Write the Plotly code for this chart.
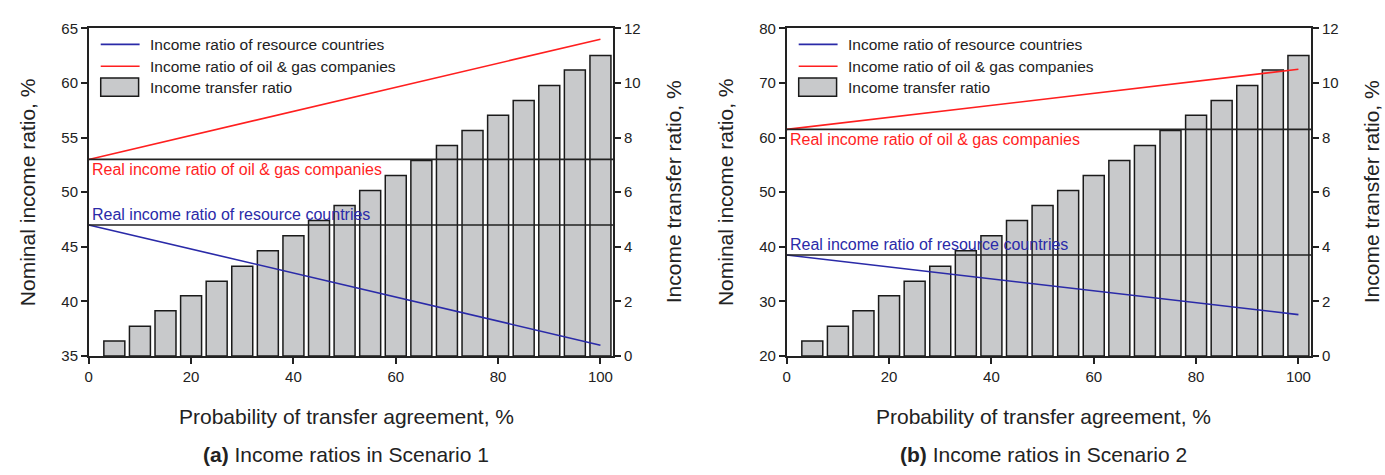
import plotly.graph_objects as go

# ---------------- data ----------------
prob = [5, 10, 15, 20, 25, 30, 35, 40, 45, 50, 55, 60, 65, 70, 75, 80, 85, 90, 95, 100]
transfer_a = [0.55, 1.09, 1.66, 2.21, 2.74, 3.29, 3.86, 4.41, 4.96, 5.51,
              6.06, 6.61, 7.16, 7.71, 8.26, 8.82, 9.36, 9.91, 10.47, 11.0]
transfer_b = [0.55, 1.09, 1.66, 2.21, 2.74, 3.29, 3.86, 4.41, 4.96, 5.51,
              6.06, 6.61, 7.16, 7.71, 8.26, 8.82, 9.36, 9.91, 10.47, 11.0]
line_x = [0, 100]
resource_a = [47.0, 36.0]
oilgas_a = [53.0, 64.0]
resource_b = [38.5, 27.6]
oilgas_b = [61.5, 72.5]
real_oilgas_a, real_resource_a = 53.0, 47.0
real_oilgas_b, real_resource_b = 61.5, 38.5

legend_names = ["Income ratio of resource countries",
                "Income ratio of oil & gas companies",
                "Income transfer ratio"]
x_title = "Probability of transfer agreement, %"
left_title = "Nominal income ratio, %"
right_title = "Income transfer ratio, %"
subtitles = ["<b>(a)</b> Income ratios in Scenario 1", "<b>(b)</b> Income ratios in Scenario 2"]

# ---------------- style ----------------
W, H = 1385, 475
FONT = "Liberation Sans, Arial, Helvetica, sans-serif"
AX = "#222222"
RED = "#ff1f1f"
BLUE = "#2a2aa8"
BAR_FILL = "#c8c9cb"

panels = [
    dict(left=85, right=611, xa="x", ya_bar="y", ya_line="y2",
         xkey="xaxis", ybkey="yaxis", ylkey="yaxis2",
         transfer=transfer_a, res=resource_a, oil=oilgas_a,
         real_oil=real_oilgas_a, real_res=real_resource_a,
         lrange=[35, 65], ldtick=5, sub=subtitles[0]),
    dict(left=785, right=1311, xa="x2", ya_bar="y3", ya_line="y4",
         xkey="xaxis2", ybkey="yaxis3", ylkey="yaxis4",
         transfer=transfer_b, res=resource_b, oil=oilgas_b,
         real_oil=real_oilgas_b, real_res=real_resource_b,
         lrange=[20, 80], ldtick=10, sub=subtitles[1]),
]
TOP, BOT = 20, 360

def px(x):
    return x / W

def py(y):
    return 1 - y / H

fig = go.Figure()
shapes = []
annotations = []
layout_axes = {}

axis_common = dict(showgrid=False, zeroline=False, showline=True, linecolor=AX,
                   linewidth=1.5, ticks="outside", ticklen=6, tickwidth=1.5,
                   tickcolor=AX, tickfont=dict(family=FONT, size=15, color=AX))

for p in panels:
    fig.add_trace(go.Bar(x=prob, y=p["transfer"], width=4.1, xaxis=p["xa"], yaxis=p["ya_bar"],
                         marker=dict(color=BAR_FILL, line=dict(color="#1a1a1a", width=1.5)),
                         name=legend_names[2], showlegend=False))
    fig.add_trace(go.Scatter(x=line_x, y=p["res"], mode="lines", xaxis=p["xa"], yaxis=p["ya_line"],
                             line=dict(color=BLUE, width=1.6), name=legend_names[0], showlegend=False))
    fig.add_trace(go.Scatter(x=line_x, y=p["oil"], mode="lines", xaxis=p["xa"], yaxis=p["ya_line"],
                             line=dict(color=RED, width=1.6), name=legend_names[1], showlegend=False))

    dom = [px(p["left"]), px(p["right"])]
    layout_axes[p["xkey"]] = dict(axis_common, domain=dom, range=[0, 102.5],
                                  tickvals=[0, 20, 40, 60, 80, 100], anchor=p["ya_bar"], mirror=True)
    layout_axes[p["ybkey"]] = dict(axis_common, domain=[py(BOT), py(TOP)], range=[0, 12], dtick=2,
                                   side="right", anchor=p["xa"])
    layout_axes[p["ylkey"]] = dict(axis_common, range=p["lrange"], dtick=p["ldtick"], side="left",
                                   overlaying=p["ya_bar"], anchor=p["xa"])

    xd = p["xa"] + " domain"
    for val in (p["real_oil"], p["real_res"]):
        shapes.append(dict(type="line", xref=xd, x0=0, x1=1, yref=p["ya_line"], y0=val, y1=val,
                           line=dict(color=AX, width=1.6), layer="above"))
    annotations.append(dict(xref=p["xa"], x=0, xanchor="left", xshift=1,
                            yref=p["ya_line"], y=p["real_oil"], yanchor="top", yshift=0,
                            text="Real income ratio of oil & gas companies", showarrow=False,
                            font=dict(family=FONT, size=16, color=RED)))
    annotations.append(dict(xref=p["xa"], x=0, xanchor="left", xshift=1,
                            yref=p["ya_line"], y=p["real_res"], yanchor="bottom", yshift=0,
                            text="Real income ratio of resource countries", showarrow=False,
                            font=dict(family=FONT, size=16, color=BLUE)))

    L = p["left"]
    rows = [36.7, 59.3, 81]
    shapes.append(dict(type="line", xref="paper", yref="paper", x0=px(L + 12), x1=px(L + 51),
                       y0=py(rows[0]), y1=py(rows[0]), line=dict(color=BLUE, width=1.6)))
    shapes.append(dict(type="line", xref="paper", yref="paper", x0=px(L + 12), x1=px(L + 51),
                       y0=py(rows[1]), y1=py(rows[1]), line=dict(color=RED, width=1.6)))
    shapes.append(dict(type="rect", xref="paper", yref="paper", x0=px(L + 12), x1=px(L + 50),
                       y0=py(rows[2] + 9.5), y1=py(rows[2] - 9.5),
                       fillcolor=BAR_FILL, line=dict(color="#1a1a1a", width=1.5)))
    for r, name in zip(rows, legend_names):
        annotations.append(dict(xref="paper", yref="paper", x=px(L + 59), y=py(r),
                                xanchor="left", yanchor="middle", text=name, showarrow=False,
                                font=dict(family=FONT, size=15.5, color=AX)))

    mid_y = py((TOP + BOT) / 2)
    annotations.append(dict(xref="paper", yref="paper", x=px(p["left"] - 62), y=mid_y,
                            xanchor="center", yanchor="middle", textangle=-90, text=left_title,
                            showarrow=False, font=dict(family=FONT, size=21, color=AX)))
    annotations.append(dict(xref="paper", yref="paper", x=px(p["right"] + 60), y=mid_y,
                            xanchor="center", yanchor="middle", textangle=-90, text=right_title,
                            showarrow=False, font=dict(family=FONT, size=21, color=AX)))
    cx = px((p["left"] + p["right"]) / 2 - 5)
    annotations.append(dict(xref="paper", yref="paper", x=cx, y=py(423),
                            xanchor="center", yanchor="middle", text=x_title,
                            showarrow=False, font=dict(family=FONT, size=21, color=AX)))
    annotations.append(dict(xref="paper", yref="paper", x=cx, y=py(462),
                            xanchor="center", yanchor="middle", text=p["sub"],
                            showarrow=False, font=dict(family=FONT, size=21, color=AX)))

fig.update_layout(width=W, height=H, margin=dict(l=0, r=0, t=0, b=0),
                  paper_bgcolor="white", plot_bgcolor="white", showlegend=False,
                  barmode="overlay", shapes=shapes, annotations=annotations,
                  font=dict(family=FONT, color=AX), **layout_axes)

fig.write_html("out.html", config={"displayModeBar": False},
               post_script="document.body.style.margin='0';document.body.style.overflow='hidden';")
